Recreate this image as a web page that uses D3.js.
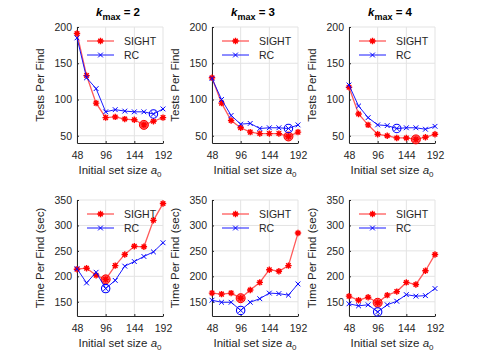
<!DOCTYPE html>
<html>
<head>
<meta charset="utf-8">
<script src="https://cdn.jsdelivr.net/npm/d3@7/dist/d3.min.js"></script>
<style>
  body { margin: 0; background: #fff; }
  svg { font-family: "Liberation Sans", Arial, sans-serif; }
</style>
</head>
<body>
<div id="chart"></div>
<script>
// data
const setSizes = [48, 64, 80, 96, 112, 128, 144, 160, 176, 192];
const xTicks = [48, 96, 144, 192];
const kValues = [2, 3, 4];

const testsSight = [
  [191, 133, 95, 75, 76, 73, 72, 65, 70, 75],
  [130, 95, 71, 61, 55, 53, 53, 53, 49, 55],
  [117, 80, 65, 52, 50, 47, 47, 45, 48, 52]
];
const testsRC = [
  [185, 130, 115, 83, 86, 84, 83, 83, 80, 87],
  [129, 100, 78, 66, 67, 60, 61, 61, 60, 65],
  [120, 91, 75, 65, 64, 60, 61, 61, 59, 63]
];
const timeSight = [
  [214, 216, 202, 194, 221, 243, 259, 258, 310, 343],
  [167, 165, 167, 157, 173, 188, 213, 210, 221, 285],
  [161, 153, 159, 148, 163, 170, 188, 184, 211, 243]
];
const timeRC = [
  [215, 187, 208, 176, 192, 220, 229, 239, 248, 266],
  [153, 149, 149, 133, 149, 156, 167, 166, 163, 185],
  [146, 142, 144, 130, 144, 151, 164, 161, 162, 176]
];
// index of the circled point in each panel
const minSight = [[7, 8, 7], [3, 3, 3]];
const minRC = [[8, 8, 5], [3, 3, 3]];

const testsTicks = [50, 100, 150, 200];
const timeTicks = [150, 200, 250, 300, 350];

const W = 485, H = 363;
const colLeft = [77, 212, 349];
const plotW = 86;
const rows = [
  { top: 27, bottom: 143, domain: [40, 200], ticks: testsTicks, label: "Tests Per Find",
    sight: testsSight, rc: testsRC },
  { top: 200, bottom: 316, domain: [122, 350], ticks: timeTicks, label: "Time Per Find (sec)",
    sight: timeSight, rc: timeRC }
];

const axisColor = "#262626";
const gridColor = "#e3e3e3";

const svg = d3.select("#chart").append("svg")
  .attr("width", W).attr("height", H);

// asterisk marker path, centred at 0,0
function starPath(r) {
  let p = "";
  for (let i = 0; i < 4; i++) {
    const a = i * Math.PI / 4;
    const dx = r * Math.cos(a), dy = r * Math.sin(a);
    p += `M${-dx},${-dy}L${dx},${dy}`;
  }
  return p;
}
function crossPath(r) {
  return `M${-r},${-r}L${r},${r}M${-r},${r}L${r},${-r}`;
}

rows.forEach((row, ri) => {
  kValues.forEach((k, ci) => {
    const x = d3.scaleLinear().domain([48, 192]).range([colLeft[ci], colLeft[ci] + plotW]);
    const y = d3.scaleLinear().domain(row.domain).range([row.bottom, row.top]);
    const g = svg.append("g");

    // grid
    g.append("g").selectAll("line").data(xTicks).join("line")
      .attr("x1", d => x(d)).attr("x2", d => x(d))
      .attr("y1", row.top).attr("y2", row.bottom)
      .attr("stroke", gridColor).attr("stroke-width", 1);
    g.append("g").selectAll("line").data(row.ticks).join("line")
      .attr("x1", x.range()[0]).attr("x2", x.range()[1])
      .attr("y1", d => y(d)).attr("y2", d => y(d))
      .attr("stroke", gridColor).attr("stroke-width", 1);

    // axes
    const xAxis = g.append("g")
      .attr("transform", `translate(0,${row.bottom})`)
      .call(d3.axisBottom(x).tickValues(xTicks).tickSize(-2).tickPadding(7).tickSizeOuter(0));
    const yAxis = g.append("g")
      .attr("transform", `translate(${colLeft[ci]},0)`)
      .call(d3.axisLeft(y).tickValues(row.ticks).tickSize(-2).tickPadding(5).tickSizeOuter(0));
    [xAxis, yAxis].forEach(a => {
      a.select(".domain").attr("stroke", axisColor);
      a.selectAll(".tick line").attr("stroke", axisColor);
      a.selectAll("text").attr("fill", axisColor).style("font-size", "10.5px");
    });
    xAxis.selectAll("text").attr("dy", "0.9em");

    // x label
    const xl = g.append("text")
      .attr("x", colLeft[ci] + plotW / 2)
      .attr("y", row.bottom + 31)
      .attr("text-anchor", "middle")
      .attr("fill", axisColor)
      .style("font-size", "11.5px");
    xl.append("tspan").text("Initial set size ");
    xl.append("tspan").style("font-style", "italic").text("a");
    xl.append("tspan").attr("dy", 3).style("font-size", "8px").text("0");

    // y label
    g.append("text")
      .attr("transform", `translate(${colLeft[ci] - 33},${(row.top + row.bottom) / 2}) rotate(-90)`)
      .attr("text-anchor", "middle")
      .attr("fill", axisColor)
      .style("font-size", "11.5px")
      .text(row.label);

    // title
    if (ri === 0) {
      const t = g.append("text")
        .attr("x", colLeft[ci] + plotW / 2 - 2)
        .attr("y", 16)
        .attr("text-anchor", "middle")
        .attr("fill", "#000")
        .style("font-weight", "bold")
        .style("font-size", "11.5px");
      t.append("tspan").style("font-style", "italic").text("k");
      t.append("tspan").attr("dy", 4).style("font-size", "9px").text("max");
      t.append("tspan").attr("dy", -4).text(" = " + k);
    }

    const pts = s => setSizes.map((a, i) => [x(a), y(s[i])]);
    const line = d3.line();

    // SIGHT series
    const sp = pts(row.sight[ci]);
    g.append("path").attr("d", line(sp))
      .attr("fill", "none").attr("stroke", "#ff5a5a").attr("stroke-width", 1.3);
    const mS = sp[minSight[ri][ci]];
    g.append("circle").attr("cx", mS[0]).attr("cy", mS[1]).attr("r", 4.5)
      .attr("fill", "rgba(255,40,40,0.75)").attr("stroke", "#ff0000").attr("stroke-width", 1);
    g.append("g").selectAll("path").data(sp).join("path")
      .attr("transform", d => `translate(${d[0]},${d[1]})`)
      .attr("d", starPath(3.2))
      .attr("stroke", "#ff0000").attr("stroke-width", 1.4).attr("fill", "none");

    // RC series
    const rp = pts(row.rc[ci]);
    g.append("path").attr("d", line(rp))
      .attr("fill", "none").attr("stroke", "#0000ff").attr("stroke-width", 0.9);
    const mR = rp[minRC[ri][ci]];
    g.append("circle").attr("cx", mR[0]).attr("cy", mR[1]).attr("r", 4.2)
      .attr("fill", "none").attr("stroke", "#0000ff").attr("stroke-width", 1.1);
    g.append("g").selectAll("path").data(rp).join("path")
      .attr("transform", d => `translate(${d[0]},${d[1]})`)
      .attr("d", crossPath(2.4))
      .attr("stroke", "#0000ff").attr("stroke-width", 1).attr("fill", "none");

    // legend
    const lx = colLeft[ci] + 10, ly = row.top + 14;
    const leg = [
      { name: "SIGHT", color: "#ff5a5a", mcolor: "#ff0000", mark: starPath(3.2), lw: 1.3, mw: 1.4 },
      { name: "RC", color: "#0000ff", mcolor: "#0000ff", mark: crossPath(2.4), lw: 0.9, mw: 1 }
    ];
    leg.forEach((e, i) => {
      const yy = ly + i * 14;
      g.append("line").attr("x1", lx).attr("x2", lx + 27).attr("y1", yy).attr("y2", yy)
        .attr("stroke", e.color).attr("stroke-width", e.lw);
      g.append("path").attr("transform", `translate(${lx + 13.5},${yy})`).attr("d", e.mark)
        .attr("stroke", e.mcolor).attr("stroke-width", e.mw).attr("fill", "none");
      g.append("text").attr("x", lx + 37).attr("y", yy + 3.8)
        .attr("fill", axisColor).style("font-size", "10.5px").text(e.name);
    });
  });
});
</script>
</body>
</html>
